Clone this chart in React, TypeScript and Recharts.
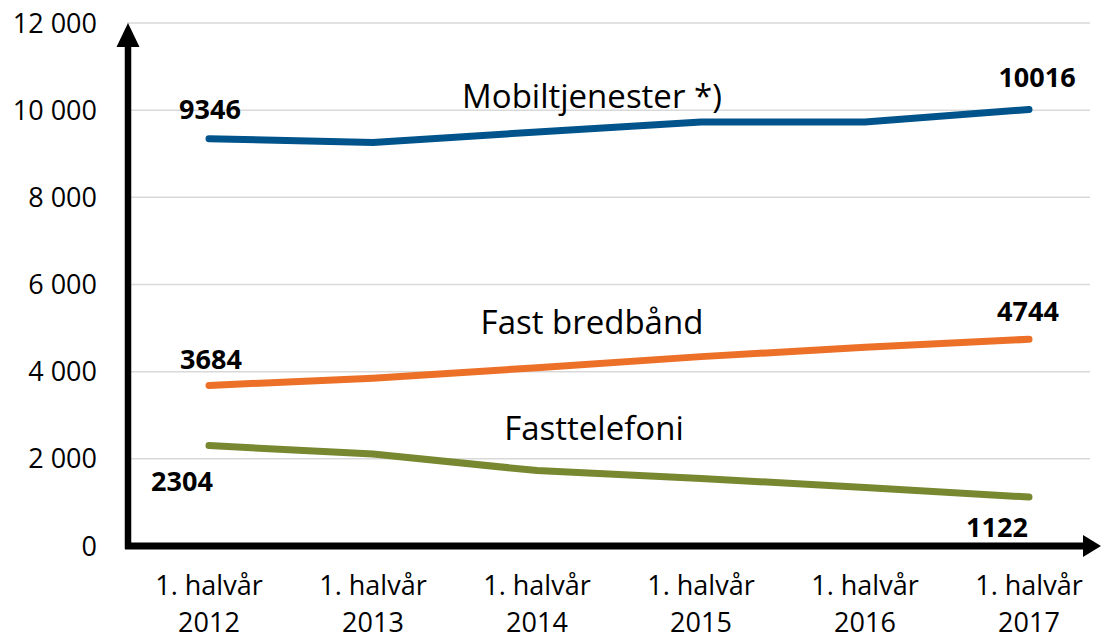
import React from 'react';
import { LineChart, Line, XAxis, YAxis, CartesianGrid, LabelList } from 'recharts';

const categories = ['2012', '2013', '2014', '2015', '2016', '2017'];
const categoryPrefix = '1. halvår';
const mobil = [9346, 9260, 9500, 9730, 9730, 10016];
const bredband = [3684, 3850, 4090, 4345, 4560, 4744];
const fasttelefoni = [2304, 2110, 1730, 1550, 1340, 1122];
const yTicks = [0, 2000, 4000, 6000, 8000, 10000, 12000];
const seriesNames = ['Mobiltjenester *)', 'Fast bredbånd', 'Fasttelefoni'];

const data = categories.map((c, i) => ({
  cat: c,
  mobil: mobil[i],
  bredband: bredband[i],
  fasttelefoni: fasttelefoni[i],
}));

const W = 1101;
const H = 639;
const XH = 30;
const M = { top: 23, right: 11, bottom: 93 - XH, left: 0 };
const YW = 127;
const plotLeft = M.left + YW;
const plotBottom = H - 93;
const FONT = '"Open Sans", sans-serif';

const fmt = (v: number) => (v >= 1000 ? `${Math.floor(v / 1000)} ${String(v % 1000).padStart(3, '0')}` : String(v));

const XTick = (props: any) => {
  const { x, payload } = props;
  return (
    <text x={x} y={plotBottom} textAnchor="middle" fontFamily={FONT} fontSize={27} fill="#000">
      <tspan x={x} dy={49}>{categoryPrefix}</tspan>
      <tspan x={x} dy={37}>{payload.value}</tspan>
    </text>
  );
};

const makeLabel = (offs: { first: [number, number]; last: [number, number] }) => (props: any) => {
  const { x, y, value, index } = props;
  if (index !== 0 && index !== categories.length - 1) return null;
  const [dx, dy] = index === 0 ? offs.first : offs.last;
  return (
    <text x={x + dx} y={y + dy} textAnchor="middle" dominantBaseline="central" fontFamily={FONT} fontWeight={700} fontSize={27} fill="#000">
      {value}
    </text>
  );
};

export default function App() {
  return (
    <div style={{ position: 'absolute', left: 0, top: 0, width: W, height: H, background: '#fff' }}>
      <LineChart width={W} height={H} data={data} margin={M}>
        <CartesianGrid vertical={false} stroke="#d9d9d9" strokeWidth={1.5} />
        <XAxis
          dataKey="cat"
          height={XH}
          axisLine={false}
          tickLine={false}
          tickSize={0}
          tickMargin={0}
          padding={{ left: 82, right: 61 }}
          tick={<XTick />}
          interval={0}
        />
        <YAxis
          width={YW}
          domain={[0, 12000]}
          ticks={yTicks}
          axisLine={false}
          tickLine={false}
          tickSize={0}
          tickMargin={30}
          tickFormatter={fmt}
          tick={{ fontFamily: FONT, fontSize: 27, fill: '#000' }}
        />
        <Line dataKey="mobil" stroke="#00548B" strokeWidth={7} strokeLinecap="round" dot={false} isAnimationActive={false}>
          <LabelList dataKey="mobil" content={makeLabel({ first: [1, -30], last: [8, -33] })} />
        </Line>
        <Line dataKey="bredband" stroke="#EC7028" strokeWidth={7} strokeLinecap="round" dot={false} isAnimationActive={false}>
          <LabelList dataKey="bredband" content={makeLabel({ first: [2, -27], last: [-1, -29] })} />
        </Line>
        <Line dataKey="fasttelefoni" stroke="#778830" strokeWidth={7} strokeLinecap="round" dot={false} isAnimationActive={false}>
          <LabelList dataKey="fasttelefoni" content={makeLabel({ first: [-27, 35], last: [-32, 29] })} />
        </Line>
      </LineChart>
      <svg width={W} height={H} style={{ position: 'absolute', left: 0, top: 0, pointerEvents: 'none' }}>
        <text x={592} y={95} textAnchor="middle" dominantBaseline="central" fontFamily={FONT} fontSize={33} fill="#000">{seriesNames[0]}</text>
        <text x={592} y={321} textAnchor="middle" dominantBaseline="central" fontFamily={FONT} fontSize={33} fill="#000">{seriesNames[1]}</text>
        <text x={594} y={427} textAnchor="middle" dominantBaseline="central" fontFamily={FONT} fontSize={33} fill="#000">{seriesNames[2]}</text>
        <line x1={plotLeft + 1} y1={plotBottom + 3} x2={plotLeft + 1} y2={44} stroke="#000" strokeWidth={6.5} />
        <polygon points={`${plotLeft + 1},23 ${plotLeft - 10.5},47 ${plotLeft + 12.5},47`} fill="#000" />
        <line x1={plotLeft - 2} y1={plotBottom} x2={1086} y2={plotBottom} stroke="#000" strokeWidth={7} />
        <polygon points={`1101,${plotBottom} 1083,${plotBottom - 11} 1083,${plotBottom + 11}`} fill="#000" />
      </svg>
    </div>
  );
}
